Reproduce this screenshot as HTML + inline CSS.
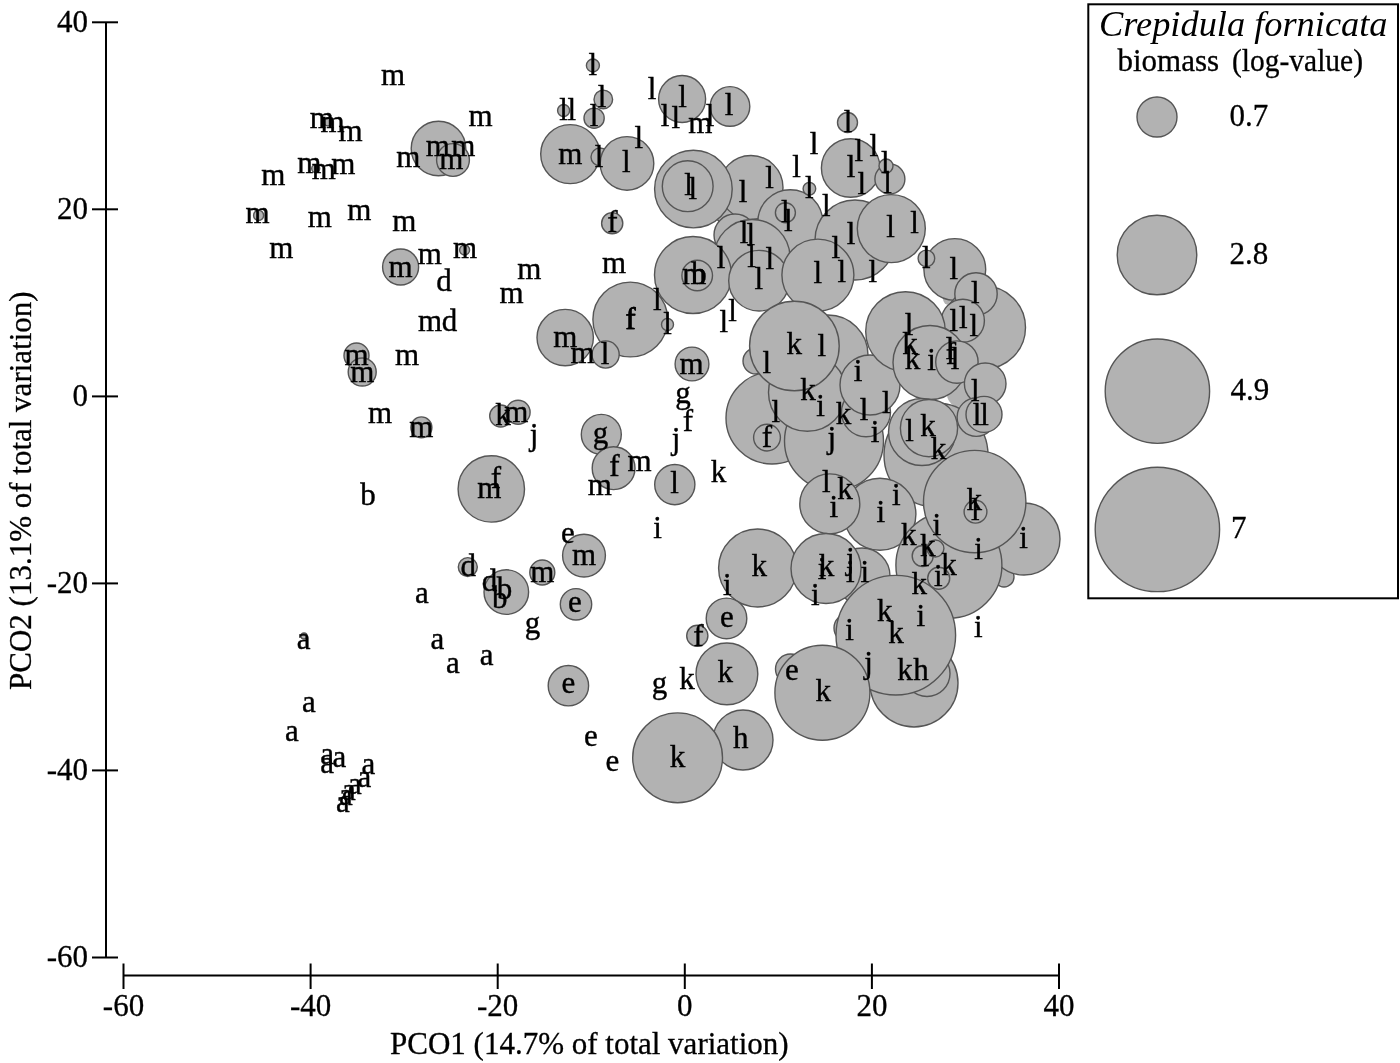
<!DOCTYPE html>
<html><head><meta charset="utf-8"><style>
html,body{margin:0;padding:0;background:#fff;}
body{width:1400px;height:1063px;overflow:hidden;}
svg{display:block;will-change:transform;}
text{font-family:"Liberation Serif",serif;fill:#000;}
</style></head><body>
<svg width="1400" height="1063" viewBox="0 0 1400 1063">
<rect width="1400" height="1063" fill="#fff"/>

<g fill="#b2b2b2" stroke="none">
<circle cx="960.0" cy="394.0" r="13.0"/>
<circle cx="949.0" cy="299.0" r="6.0"/>
</g>
<g fill="#b2b2b2" stroke="#555" stroke-width="1.4">
<circle cx="400.6" cy="267.0" r="18.0"/>
<circle cx="438.5" cy="148.5" r="27.3"/>
<circle cx="453.0" cy="160.0" r="16.4"/>
<circle cx="570.2" cy="154.1" r="29.5"/>
<circle cx="600.0" cy="157.0" r="9.0"/>
<circle cx="627.0" cy="163.4" r="26.8"/>
<circle cx="682.1" cy="99.0" r="23.5"/>
<circle cx="730.0" cy="106.4" r="19.8"/>
<circle cx="740.0" cy="200.0" r="30.0"/>
<circle cx="751.0" cy="187.5" r="32.0"/>
<circle cx="693.4" cy="189.1" r="38.8"/>
<circle cx="687.7" cy="186.2" r="25.4"/>
<circle cx="790.3" cy="222.2" r="32.5"/>
<circle cx="735.0" cy="235.0" r="21.0"/>
<circle cx="752.0" cy="257.5" r="38.0"/>
<circle cx="693.0" cy="275.0" r="38.5"/>
<circle cx="759.0" cy="280.7" r="30.3"/>
<circle cx="850.7" cy="168.0" r="29.3"/>
<circle cx="855.0" cy="240.0" r="40.0"/>
<circle cx="891.3" cy="228.6" r="34.0"/>
<circle cx="817.9" cy="275.1" r="36.0"/>
<circle cx="954.8" cy="269.5" r="30.9"/>
<circle cx="984.0" cy="327.5" r="41.5"/>
<circle cx="976.0" cy="293.9" r="21.2"/>
<circle cx="962.9" cy="320.7" r="21.5"/>
<circle cx="692.0" cy="364.0" r="16.9"/>
<circle cx="756.0" cy="361.0" r="13.0"/>
<circle cx="828.0" cy="355.0" r="40.0"/>
<circle cx="772.0" cy="418.0" r="46.0"/>
<circle cx="834.0" cy="441.0" r="49.5"/>
<circle cx="807.3" cy="392.5" r="38.8"/>
<circle cx="794.4" cy="346.0" r="44.8"/>
<circle cx="866.0" cy="412.3" r="24.5"/>
<circle cx="870.0" cy="385.0" r="30.0"/>
<circle cx="905.5" cy="331.5" r="39.8"/>
<circle cx="930.0" cy="362.5" r="37.0"/>
<circle cx="956.9" cy="362.1" r="21.2"/>
<circle cx="985.2" cy="383.8" r="20.8"/>
<circle cx="936.0" cy="455.0" r="52.0"/>
<circle cx="922.0" cy="432.0" r="33.5"/>
<circle cx="976.3" cy="417.2" r="19.2"/>
<circle cx="984.0" cy="414.4" r="18.0"/>
<circle cx="929.0" cy="428.1" r="28.6"/>
<circle cx="1004.0" cy="577.0" r="10.0"/>
<circle cx="1024.0" cy="539.0" r="36.0"/>
<circle cx="879.9" cy="514.3" r="36.0"/>
<circle cx="829.8" cy="503.9" r="30.0"/>
<circle cx="948.9" cy="565.3" r="53.0"/>
<circle cx="974.7" cy="501.6" r="51.2"/>
<circle cx="862.0" cy="576.0" r="28.0"/>
<circle cx="757.6" cy="568.0" r="39.0"/>
<circle cx="826.0" cy="568.5" r="35.0"/>
<circle cx="914.0" cy="683.0" r="44.0"/>
<circle cx="927.0" cy="673.5" r="23.0"/>
<circle cx="848.0" cy="628.0" r="14.0"/>
<circle cx="895.8" cy="635.2" r="59.8"/>
<circle cx="790.5" cy="669.0" r="15.0"/>
<circle cx="822.4" cy="692.7" r="47.5"/>
<circle cx="726.5" cy="618.4" r="20.3"/>
<circle cx="726.9" cy="673.9" r="30.9"/>
<circle cx="743.0" cy="740.0" r="30.0"/>
<circle cx="630.3" cy="319.5" r="37.4"/>
<circle cx="565.2" cy="337.6" r="28.2"/>
<circle cx="601.3" cy="434.4" r="20.0"/>
<circle cx="613.6" cy="468.2" r="21.4"/>
<circle cx="491.3" cy="488.9" r="33.2"/>
<circle cx="584.0" cy="555.6" r="21.4"/>
<circle cx="674.8" cy="484.6" r="20.1"/>
<circle cx="506.3" cy="592.1" r="22.3"/>
<circle cx="568.4" cy="685.7" r="20.2"/>
<circle cx="677.6" cy="757.8" r="44.9"/>
<circle cx="328.0" cy="122.0" r="4.0"/>
<circle cx="315.7" cy="168.6" r="4.0"/>
<circle cx="258.6" cy="215.4" r="5.0"/>
<circle cx="464.6" cy="250.0" r="5.0"/>
<circle cx="563.6" cy="110.5" r="6.0"/>
<circle cx="592.9" cy="65.5" r="6.5"/>
<circle cx="603.3" cy="99.4" r="9.3"/>
<circle cx="594.1" cy="118.2" r="10.1"/>
<circle cx="785.4" cy="212.7" r="10.0"/>
<circle cx="809.4" cy="188.7" r="6.3"/>
<circle cx="697.2" cy="275.5" r="15.3"/>
<circle cx="847.5" cy="122.5" r="10.0"/>
<circle cx="889.9" cy="179.0" r="15.0"/>
<circle cx="926.4" cy="258.4" r="8.3"/>
<circle cx="667.5" cy="324.4" r="6.0"/>
<circle cx="767.0" cy="437.6" r="13.4"/>
<circle cx="975.5" cy="511.7" r="11.4"/>
<circle cx="922.7" cy="556.0" r="10.5"/>
<circle cx="935.4" cy="548.5" r="8.5"/>
<circle cx="938.7" cy="578.2" r="11.0"/>
<circle cx="612.2" cy="223.2" r="10.6"/>
<circle cx="605.6" cy="354.5" r="13.6"/>
<circle cx="500.7" cy="416.0" r="11.0"/>
<circle cx="518.1" cy="412.2" r="12.0"/>
<circle cx="467.8" cy="567.1" r="9.5"/>
<circle cx="542.3" cy="572.5" r="12.5"/>
<circle cx="576.0" cy="604.3" r="15.7"/>
<circle cx="304.0" cy="636.0" r="3.0"/>
<circle cx="697.3" cy="635.8" r="10.6"/>
<circle cx="356.5" cy="355.5" r="12.5"/>
<circle cx="362.2" cy="372.0" r="14.0"/>
<circle cx="421.4" cy="427.4" r="10.5"/>
<circle cx="886.0" cy="166.0" r="7.0"/>
</g>
<g font-size="31" text-anchor="middle" stroke="#000" stroke-width="0.4">
<text x="393.0" y="84.5">m</text>
<text x="321.8" y="127.9">m</text>
<text x="332.5" y="131.7">m</text>
<text x="350.6" y="141.4">m</text>
<text x="309.3" y="172.9">m</text>
<text x="323.9" y="179.3">m</text>
<text x="343.2" y="173.6">m</text>
<text x="273.2" y="185.0">m</text>
<text x="408.2" y="167.0">m</text>
<text x="257.5" y="222.9">m</text>
<text x="319.9" y="227.1">m</text>
<text x="359.3" y="220.0">m</text>
<text x="404.3" y="231.1">m</text>
<text x="281.4" y="258.3">m</text>
<text x="400.6" y="276.5">m</text>
<text x="429.9" y="263.9">m</text>
<text x="465.0" y="258.3">m</text>
<text x="444.0" y="291.3">d</text>
<text x="480.6" y="126.0">m</text>
<text x="437.7" y="155.7">m</text>
<text x="463.2" y="156.4">m</text>
<text x="451.4" y="168.6">m</text>
<text x="570.2" y="163.6">m</text>
<text x="563.6" y="120.0">l</text>
<text x="571.8" y="120.0">l</text>
<text x="592.9" y="75.0">l</text>
<text x="602.1" y="107.1">l</text>
<text x="594.0" y="125.7">l</text>
<text x="599.0" y="166.5">l</text>
<text x="626.4" y="172.1">l</text>
<text x="638.9" y="147.9">l</text>
<text x="652.1" y="98.6">l</text>
<text x="682.5" y="107.1">l</text>
<text x="729.1" y="115.0">l</text>
<text x="665.0" y="125.7">l</text>
<text x="675.7" y="127.9">l</text>
<text x="700.4" y="132.9">m</text>
<text x="710.0" y="125.7">l</text>
<text x="688.5" y="194.7">l</text>
<text x="692.7" y="198.9">l</text>
<text x="743.0" y="201.5">l</text>
<text x="769.5" y="187.5">l</text>
<text x="785.4" y="221.5">l</text>
<text x="788.2" y="231.4">l</text>
<text x="809.4" y="197.5">l</text>
<text x="744.0" y="242.8">l</text>
<text x="750.7" y="244.8">l</text>
<text x="721.0" y="267.5">l</text>
<text x="694.2" y="283.6">m</text>
<text x="699.0" y="284.0">b</text>
<text x="751.6" y="266.7">l</text>
<text x="758.7" y="288.5">l</text>
<text x="769.9" y="268.8">l</text>
<text x="657.4" y="309.7">l</text>
<text x="848.0" y="131.5">l</text>
<text x="814.0" y="153.5">l</text>
<text x="796.5" y="176.5">l</text>
<text x="858.9" y="160.7">l</text>
<text x="851.1" y="176.5">l</text>
<text x="861.8" y="193.6">l</text>
<text x="873.9" y="155.7">l</text>
<text x="885.4" y="172.9">l</text>
<text x="887.5" y="192.9">l</text>
<text x="826.4" y="215.7">l</text>
<text x="851.0" y="244.1">l</text>
<text x="835.9" y="257.5">l</text>
<text x="890.5" y="237.0">l</text>
<text x="914.6" y="233.2">l</text>
<text x="817.8" y="282.9">l</text>
<text x="841.8" y="282.2">l</text>
<text x="872.9" y="281.5">l</text>
<text x="926.4" y="267.9">l</text>
<text x="953.7" y="279.0">l</text>
<text x="975.2" y="303.0">l</text>
<text x="953.7" y="330.5">l</text>
<text x="963.2" y="328.4">l</text>
<text x="973.9" y="336.2">l</text>
<text x="630.6" y="328.8">f</text>
<text x="667.5" y="333.9">l</text>
<text x="723.7" y="332.3">l</text>
<text x="732.6" y="321.0">l</text>
<text x="691.5" y="373.5">m</text>
<text x="683.1" y="403.0">g</text>
<text x="688.0" y="431.1">f</text>
<text x="794.2" y="354.3">k</text>
<text x="821.7" y="356.4">l</text>
<text x="766.7" y="372.7">l</text>
<text x="864.0" y="419.6">l</text>
<text x="886.3" y="413.0">l</text>
<text x="808.0" y="399.8">k</text>
<text x="820.5" y="415.6">i</text>
<text x="775.7" y="422.2">l</text>
<text x="843.5" y="423.5">k</text>
<text x="767.0" y="447.1">f</text>
<text x="831.7" y="448.3">j</text>
<text x="875.1" y="442.0">i</text>
<text x="858.0" y="381.4">i</text>
<text x="718.4" y="481.5">k</text>
<text x="909.0" y="335.3">l</text>
<text x="910.0" y="353.6">k</text>
<text x="912.5" y="369.1">k</text>
<text x="931.5" y="369.8">i</text>
<text x="951.0" y="364.2">f</text>
<text x="955.0" y="369.1">l</text>
<text x="950.0" y="358.5">l</text>
<text x="975.2" y="400.9">l</text>
<text x="977.0" y="424.9">l</text>
<text x="984.5" y="424.9">l</text>
<text x="909.6" y="441.1">l</text>
<text x="928.0" y="435.5">k</text>
<text x="938.4" y="459.1">k</text>
<text x="1023.5" y="547.5">i</text>
<text x="974.3" y="509.6">k</text>
<text x="975.2" y="519.7">l</text>
<text x="880.8" y="522.3">i</text>
<text x="896.4" y="505.3">i</text>
<text x="826.4" y="492.0">l</text>
<text x="844.9" y="498.6">k</text>
<text x="833.7" y="517.0">i</text>
<text x="927.7" y="556.1">k</text>
<text x="925.0" y="565.5">l</text>
<text x="938.3" y="586.0">i</text>
<text x="948.9" y="574.8">k</text>
<text x="908.7" y="544.7">k</text>
<text x="919.3" y="594.0">k</text>
<text x="936.7" y="534.7">i</text>
<text x="978.5" y="558.5">i</text>
<text x="759.2" y="576.0">k</text>
<text x="826.4" y="576.0">k</text>
<text x="822.0" y="579.0">i</text>
<text x="850.4" y="568.5">j</text>
<text x="850.4" y="582.4">i</text>
<text x="864.8" y="582.4">i</text>
<text x="727.2" y="595.2">i</text>
<text x="815.2" y="604.8">i</text>
<text x="978.3" y="636.7">i</text>
<text x="884.8" y="620.8">k</text>
<text x="920.7" y="625.6">i</text>
<text x="895.9" y="643.1">k</text>
<text x="849.6" y="640.0">i</text>
<text x="868.5" y="673.0">j</text>
<text x="905.0" y="680.0">k</text>
<text x="921.0" y="680.0">h</text>
<text x="823.2" y="700.7">k</text>
<text x="792.0" y="680.0">e</text>
<text x="726.8" y="626.7">e</text>
<text x="725.3" y="681.9">k</text>
<text x="740.8" y="747.9">h</text>
<text x="612.4" y="232.2">f</text>
<text x="614.0" y="273.1">m</text>
<text x="529.3" y="278.8">m</text>
<text x="511.6" y="303.2">m</text>
<text x="630.3" y="329.0">f</text>
<text x="565.2" y="346.9">m</text>
<text x="605.0" y="363.7">l</text>
<text x="582.5" y="363.4">m</text>
<text x="503.0" y="424.9">k</text>
<text x="516.2" y="422.1">m</text>
<text x="534.0" y="445.4">j</text>
<text x="600.6" y="443.3">g</text>
<text x="614.5" y="476.0">f</text>
<text x="599.9" y="494.5">m</text>
<text x="639.5" y="470.5">m</text>
<text x="489.4" y="498.3">m</text>
<text x="496.0" y="488.0">f</text>
<text x="568.0" y="542.5">e</text>
<text x="584.0" y="565.1">m</text>
<text x="674.5" y="493.0">l</text>
<text x="657.5" y="537.5">i</text>
<text x="676.0" y="449.4">j</text>
<text x="468.2" y="575.5">d</text>
<text x="489.4" y="591.1">d</text>
<text x="504.4" y="598.7">b</text>
<text x="499.8" y="608.1">b</text>
<text x="542.3" y="582.0">m</text>
<text x="574.8" y="612.0">e</text>
<text x="532.6" y="632.7">g</text>
<text x="486.6" y="664.5">a</text>
<text x="452.9" y="672.9">a</text>
<text x="437.4" y="649.2">a</text>
<text x="422.0" y="602.6">a</text>
<text x="303.7" y="649.2">a</text>
<text x="308.9" y="712.3">a</text>
<text x="292.0" y="741.0">a</text>
<text x="568.4" y="693.0">e</text>
<text x="698.5" y="645.5">f</text>
<text x="687.0" y="688.7">k</text>
<text x="659.6" y="692.8">g</text>
<text x="677.6" y="767.3">k</text>
<text x="591.0" y="745.8">e</text>
<text x="612.3" y="770.9">e</text>
<text x="356.5" y="365.0">m</text>
<text x="362.2" y="381.5">m</text>
<text x="407.0" y="365.3">m</text>
<text x="380.0" y="422.5">m</text>
<text x="421.4" y="436.9">m</text>
<text x="367.9" y="505.3">b</text>
<text x="430.0" y="331.4">m</text>
<text x="449.6" y="331.4">d</text>
<text x="327.2" y="763.6">a</text>
<text x="327.2" y="773.4">a</text>
<text x="339.4" y="767.3">a</text>
<text x="368.4" y="774.0">a</text>
<text x="364.5" y="786.8">a</text>
<text x="355.0" y="794.2">a</text>
<text x="349.0" y="800.3">a</text>
<text x="342.8" y="811.9">a</text>
<text x="346.0" y="804.5">a</text>
</g>
<g stroke="#000" stroke-width="2" fill="none">
<line x1="106" y1="22.3" x2="106" y2="957.5"/>
<line x1="92" y1="22.3" x2="118" y2="22.3"/>
<line x1="92" y1="209.3" x2="118" y2="209.3"/>
<line x1="92" y1="396.4" x2="118" y2="396.4"/>
<line x1="92" y1="583.4" x2="118" y2="583.4"/>
<line x1="92" y1="770.4" x2="118" y2="770.4"/>
<line x1="92" y1="957.5" x2="118" y2="957.5"/>
<line x1="123.5" y1="975.5" x2="1059.5" y2="975.5"/>
<line x1="123.5" y1="963.5" x2="123.5" y2="989"/>
<line x1="310.6" y1="963.5" x2="310.6" y2="989"/>
<line x1="497.7" y1="963.5" x2="497.7" y2="989"/>
<line x1="684.8" y1="963.5" x2="684.8" y2="989"/>
<line x1="871.9" y1="963.5" x2="871.9" y2="989"/>
<line x1="1059" y1="963.5" x2="1059" y2="989"/>
</g>
<g font-size="31" text-anchor="end" stroke="#000" stroke-width="0.3">
<text x="88" y="32">40</text>
<text x="88" y="219">20</text>
<text x="88" y="406">0</text>
<text x="88" y="593">-20</text>
<text x="88" y="780">-40</text>
<text x="88" y="967">-60</text>
</g>
<g font-size="31" text-anchor="middle" stroke="#000" stroke-width="0.3">
<text x="123.5" y="1016">-60</text>
<text x="310.6" y="1016">-40</text>
<text x="497.7" y="1016">-20</text>
<text x="684.8" y="1016">0</text>
<text x="871.9" y="1016">20</text>
<text x="1059" y="1016">40</text>
</g>
<text x="390" y="1054" font-size="31" stroke="#000" stroke-width="0.3">PCO1 (14.7% of total variation)</text>
<text transform="translate(30.5,690) rotate(-90)" font-size="31" stroke="#000" stroke-width="0.3">PCO2 (13.1% of total variation)</text>
<rect x="1088.3" y="4.3" width="309.7" height="594" fill="none" stroke="#000" stroke-width="2"/>
<text x="1099" y="36" font-size="35" font-style="italic" textLength="288.5" lengthAdjust="spacingAndGlyphs">Crepidula fornicata</text>
<text x="1117.5" y="70.5" font-size="31" stroke="#000" stroke-width="0.3">biomass</text>
<text x="1232" y="70.5" font-size="31" stroke="#000" stroke-width="0.3" textLength="131" lengthAdjust="spacingAndGlyphs">(log-value)</text>
<g fill="#b2b2b2" stroke="#555" stroke-width="1.4">
<circle cx="1157" cy="117" r="20"/>
<circle cx="1157" cy="255" r="39.8"/>
<circle cx="1157.4" cy="391.2" r="52.2"/>
<circle cx="1157.4" cy="529.4" r="62.2"/>
</g>
<g font-size="31" stroke="#000" stroke-width="0.3">
<text x="1229.5" y="126">0.7</text>
<text x="1229.5" y="264">2.8</text>
<text x="1230.5" y="399.5">4.9</text>
<text x="1231" y="538">7</text>
</g>

</svg></body></html>
